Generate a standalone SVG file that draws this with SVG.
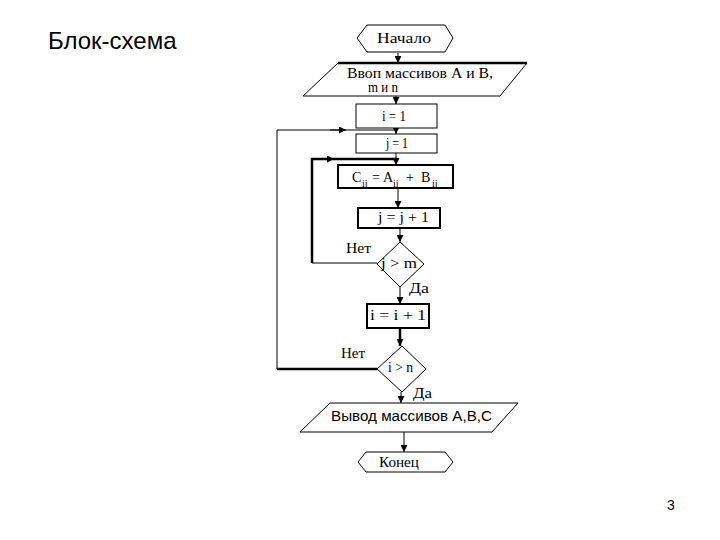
<svg xmlns="http://www.w3.org/2000/svg" width="720" height="540" viewBox="0 0 720 540">
<defs>
<style>
.shape{fill:#fff;stroke:#000;stroke-width:1}
.thick{stroke-width:2}
.t{font-family:"Liberation Serif","DejaVu Serif",serif;font-size:14px;fill:#000}
.sub{font-size:10px}
.s{font-family:"Liberation Sans",Arial,sans-serif;fill:#000}
.c{fill:none;stroke:#000;stroke-width:1}
.ct{fill:none;stroke:#000;stroke-width:2.5}
</style>
<marker id="ah" viewBox="0 0 8 8" refX="8" refY="4" markerWidth="7" markerHeight="7" markerUnits="userSpaceOnUse" orient="auto">
<path d="M0,0 L8,4 L0,8 Z" fill="#000"/>
</marker>
</defs>
<rect width="720" height="540" fill="#fff"/>
<text class="s" x="48" y="49" font-size="24">Блок-схема</text>
<text class="s" x="667" y="510" font-size="14">3</text>

<g id="connectors">
<line class="c" x1="398" y1="53" x2="398" y2="63" marker-end="url(#ah)"/>
<line class="c" x1="396" y1="96" x2="396" y2="104" marker-end="url(#ah)"/>
<line class="c" x1="396" y1="128" x2="396" y2="134" marker-end="url(#ah)"/>
<polyline class="c" points="377,369 277,369 277,130 396,130"/>
<line class="c" x1="330" y1="130" x2="346" y2="130" marker-end="url(#ah)"/>
<line class="c" x1="396" y1="153" x2="396" y2="165" marker-end="url(#ah)"/>
<polyline class="ct" points="312,263 312,159 396,159"/>
<line class="c" x1="377" y1="263" x2="312" y2="263"/>
<line class="c" x1="320" y1="159" x2="334" y2="159" marker-end="url(#ah)"/>
<line class="c" x1="398" y1="188" x2="398" y2="208" marker-end="url(#ah)"/>
<line class="c" x1="400" y1="228" x2="400" y2="242" marker-end="url(#ah)"/>
<line class="c" x1="400" y1="287" x2="400" y2="304" marker-end="url(#ah)"/>
<line class="ct" x1="400" y1="328" x2="400" y2="346" marker-end="url(#ah)"/>
<line class="ct" x1="377" y1="369" x2="277" y2="369"/>
<line class="c" x1="401" y1="392" x2="401" y2="403" marker-end="url(#ah)"/>
<line class="c" x1="404" y1="432" x2="404" y2="452" marker-end="url(#ah)"/>
</g>

<g id="start">
<path class="shape" d="M367,25 L445,25 L453,38 L445,52 L367,52 L357,38 Z"/>
<text class="t" x="377" y="43" textLength="54" lengthAdjust="spacingAndGlyphs">Начало</text>
</g>

<g id="input">
<path class="shape" d="M338,63 L527,63 L500,96 L303,96 Z"/>
<line x1="338" y1="63" x2="527" y2="63" stroke="#000" stroke-width="2.5"/>
<text class="t" x="347" y="78" font-size="13" textLength="146" lengthAdjust="spacingAndGlyphs">Ввоп массивов А и В,</text>
<text class="t" x="368" y="92" font-size="13" textLength="30" lengthAdjust="spacingAndGlyphs">m и n</text>
</g>

<g id="i1">
<rect class="shape" x="356" y="104" width="81" height="24"/>
<text class="t" x="382" y="121" textLength="24" lengthAdjust="spacingAndGlyphs">i = 1</text>
</g>

<g id="j1">
<rect class="shape" x="356" y="134" width="81" height="19"/>
<text class="t" x="386" y="148" textLength="22" lengthAdjust="spacingAndGlyphs">j = 1</text>
</g>

<g id="calc">
<rect class="shape thick" x="338" y="165" width="115" height="23"/>
<text class="t"><tspan x="352" y="182">C</tspan><tspan class="sub" x="362" y="187">ij</tspan><tspan x="372" y="182">=</tspan><tspan x="383" y="182">A</tspan><tspan class="sub" x="393" y="187">ij</tspan><tspan x="406" y="182">+</tspan><tspan x="421" y="182">B</tspan><tspan class="sub" x="432" y="187">ij</tspan></text>
</g>

<g id="jinc">
<rect class="shape thick" x="358" y="208" width="82" height="20"/>
<text class="t" x="378" y="222" textLength="51" lengthAdjust="spacingAndGlyphs">j = j + 1</text>
</g>

<g id="cond1">
<path class="shape" d="M400,242 L424,264 L400,287 L377,264 Z"/>
<text class="t" x="381" y="268" textLength="36" lengthAdjust="spacingAndGlyphs">j &gt; m</text>
<text class="t" x="346" y="253" textLength="25" lengthAdjust="spacingAndGlyphs">Нет</text>
<text class="t" x="409" y="293" textLength="20" lengthAdjust="spacingAndGlyphs">Да</text>
</g>

<g id="iinc">
<rect class="shape thick" x="367" y="304" width="62" height="24"/>
<text class="t" x="370" y="320" textLength="56" lengthAdjust="spacingAndGlyphs">i = i + 1</text>
</g>

<g id="cond2">
<path class="shape" d="M402,346 L426,369 L402,392 L377,369 Z"/>
<text class="t" x="388" y="372" textLength="25" lengthAdjust="spacingAndGlyphs">i &gt; n</text>
<text class="t" x="341" y="358" textLength="24" lengthAdjust="spacingAndGlyphs">Нет</text>
<text class="t" x="413" y="398" textLength="19" lengthAdjust="spacingAndGlyphs">Да</text>
</g>

<g id="output">
<path class="shape" d="M330,403 L518,403 L492,432 L300,432 Z"/>
<text class="s" x="331" y="421" font-size="14" textLength="161" lengthAdjust="spacingAndGlyphs">Вывод массивов А,В,С</text>
</g>

<g id="end">
<path class="shape" d="M366,452 L445,452 L453,462 L445,472 L366,472 L358,462 Z"/>
<text class="t" x="379" y="467" textLength="40" lengthAdjust="spacingAndGlyphs">Конец</text>
</g>
</svg>
